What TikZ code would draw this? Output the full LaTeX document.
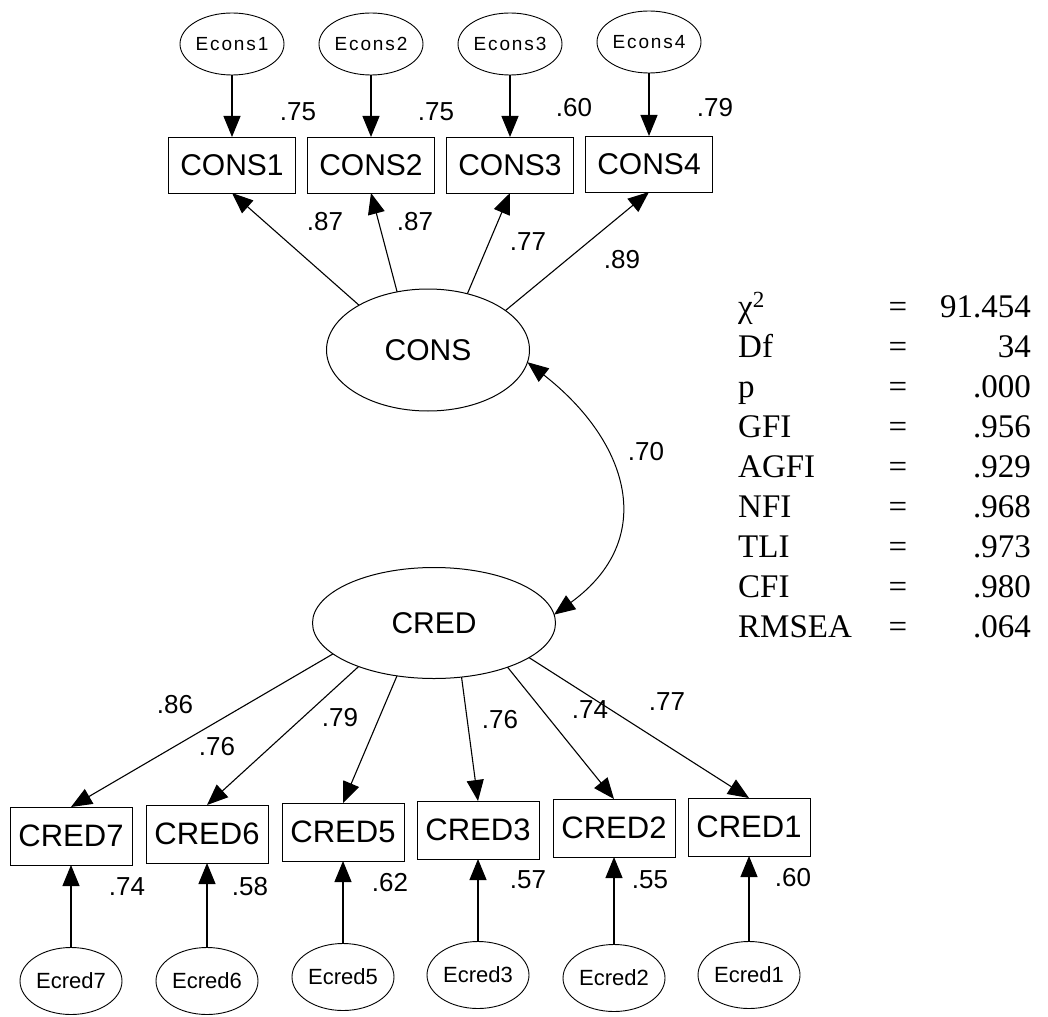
\documentclass[tikz,border=0pt]{standalone}
\usepackage{fontspec}
\setmainfont{Liberation Serif}
\newfontfamily\arial{Liberation Sans}
\newfontfamily\arialwide[LetterSpace=10]{Liberation Sans}
\usetikzlibrary{shapes.geometric,arrows.meta}

\begin{document}
\begin{tikzpicture}[x=1pt,y=-1pt,
    latent/.style={ellipse,draw,line width=1pt,inner sep=0pt,outer sep=0pt,minimum width=203pt,minimum height=122pt,font=\arial\fontsize{30}{32}\selectfont},
    consbox/.style={rectangle,draw,line width=0.8pt,inner sep=0pt,outer sep=0pt,minimum width=127pt,minimum height=56pt,font=\arial\fontsize{30}{32}\selectfont},
    credbox/.style={consbox,minimum width=122pt,minimum height=58pt,font=\arial\fontsize{31}{33}\selectfont},
    econs/.style={ellipse,draw,line width=0.9pt,inner sep=0pt,outer sep=0pt,minimum width=104pt,minimum height=62pt,font=\arialwide\fontsize{19}{21}\selectfont},
    ecred/.style={econs,minimum width=102pt,minimum height=67pt,font=\arial\fontsize{22}{24}\selectfont},
    loading/.style={-{Triangle[length=21pt,width=17pt]},line width=1.1pt},
    coef/.style={font=\arial\fontsize{26}{28}\selectfont},
    fitcol/.style={font=\fontsize{33}{40}\selectfont,inner sep=0pt}]
            \useasboundingbox (0,0) rectangle (1048,1016);

            % Draw latent variables
            \node[latent] (cons) at (428,350) {CONS};
            \node[latent,minimum width=243pt,minimum height=111pt] (cred) at (434,623) {CRED};

            % Draw indicators of CONS
            \node[consbox] (cons1) at (232,165) {CONS1};
            \node[consbox] (cons2) at (371,165) {CONS2};
            \node[consbox] (cons3) at (510,165) {CONS3};
            \node[consbox] (cons4) at (649,164) {CONS4};

            % Draw indicators of CRED
            \node[credbox] (cred7) at (71,836) {CRED7};
            \node[credbox] (cred6) at (207,834) {CRED6};
            \node[credbox] (cred5) at (343,832) {CRED5};
            \node[credbox] (cred3) at (478,830) {CRED3};
            \node[credbox] (cred2) at (614,828) {CRED2};
            \node[credbox] (cred1) at (749,827) {CRED1};

            % Draw error terms
            \node[econs] (econs1) at (232,44) {Econs1};
            \node[econs] (econs2) at (371,44) {Econs2};
            \node[econs] (econs3) at (510,44) {Econs3};
            \node[econs] (econs4) at (649,42) {Econs4};
            \node[ecred] (ecred7) at (71,981) {Ecred7};
            \node[ecred] (ecred6) at (207,981) {Ecred6};
            \node[ecred] (ecred5) at (343,977) {Ecred5};
            \node[ecred] (ecred3) at (478,975) {Ecred3};
            \node[ecred] (ecred2) at (614,978) {Ecred2};
            \node[ecred] (ecred1) at (749,975) {Ecred1};

            % Connect error terms with indicators
            \draw[loading] (econs1) -- (cons1);
            \draw[loading] (econs2) -- (cons2);
            \draw[loading] (econs3) -- (cons3);
            \draw[loading] (econs4) -- (cons4);
            \draw[loading] (ecred7) -- (cred7);
            \draw[loading] (ecred6) -- (cred6);
            \draw[loading] (ecred5) -- (cred5);
            \draw[loading] (ecred3) -- (cred3);
            \draw[loading] (ecred2) -- (cred2);
            \draw[loading] (ecred1) -- (cred1);

            % Connect latent variables with indicators
            \draw[loading] (cons.147.8) -- (cons1.south);
            \draw[loading] (cons.118.9) -- (cons2.south);
            \draw[loading] (cons.55.3) -- (cons3.south);
            \draw[loading] (cons.27.3) -- (cons4.south);
            \draw[loading] (cred.197) -- (cred7.north);
            \draw[loading] (cred.210) -- (cred6.north);
            \draw[loading] (cred.235) -- (cred5.north);
            \draw[loading] (cred.297) -- (cred3.north);
            \draw[loading] (cred.329.4) -- (cred2.north);
            \draw[loading] (cred.340.7) -- (cred1.north);

            % Covariance
            \draw[{Triangle[length=21pt,width=17pt]}-{Triangle[length=21pt,width=17pt]}, line width=1pt]
              (cons.-7) to[out=-38, in=36, looseness=1.3] (cred.4);

            % Estimates
            \node[coef] (r1) at (298,112) {.75};
            \node[coef] (r2) at (436,112) {.75};
            \node[coef] (r3) at (574,108) {.60};
            \node[coef] (r4) at (715,108) {.79};
            \node[coef] (l1) at (325,222) {.87};
            \node[coef] (l2) at (415,222) {.87};
            \node[coef] (l3) at (528,242) {.77};
            \node[coef] (l4) at (622,260) {.89};
            \node[coef] (cov) at (646,452) {.70};
            \node[coef] (l7) at (175,705) {.86};
            \node[coef] (l6) at (217,747) {.76};
            \node[coef] (l5) at (340,718) {.79};
            \node[coef] (l3b) at (500,720) {.76};
            \node[coef] (l2b) at (590,710) {.74};
            \node[coef] (l1b) at (667,702) {.77};
            \node[coef] (s7) at (127,887) {.74};
            \node[coef] (s6) at (250,887) {.58};
            \node[coef] (s5) at (390,883) {.62};
            \node[coef] (s3) at (528,880) {.57};
            \node[coef] (s2) at (650,880) {.55};
            \node[coef] (s1) at (793,878) {.60};

            % Fit indices
            \node[fitcol,anchor=base west] (fitnames) at (738,317)
              {\begin{tabular}[t]{@{}l@{}}χ\textsuperscript{2}\\Df\\p\\GFI\\AGFI\\NFI\\TLI\\CFI\\RMSEA\end{tabular}};
            \node[fitcol,anchor=base] (fiteq) at (898,317)
              {\begin{tabular}[t]{@{}c@{}}=\\=\\=\\=\\=\\=\\=\\=\\=\end{tabular}};
            \node[fitcol,anchor=base east] (fitvals) at (1031,317)
              {\begin{tabular}[t]{@{}r@{}}91.454\\34\\.000\\.956\\.929\\.968\\.973\\.980\\.064\end{tabular}};
          \end{tikzpicture}
\end{document}
